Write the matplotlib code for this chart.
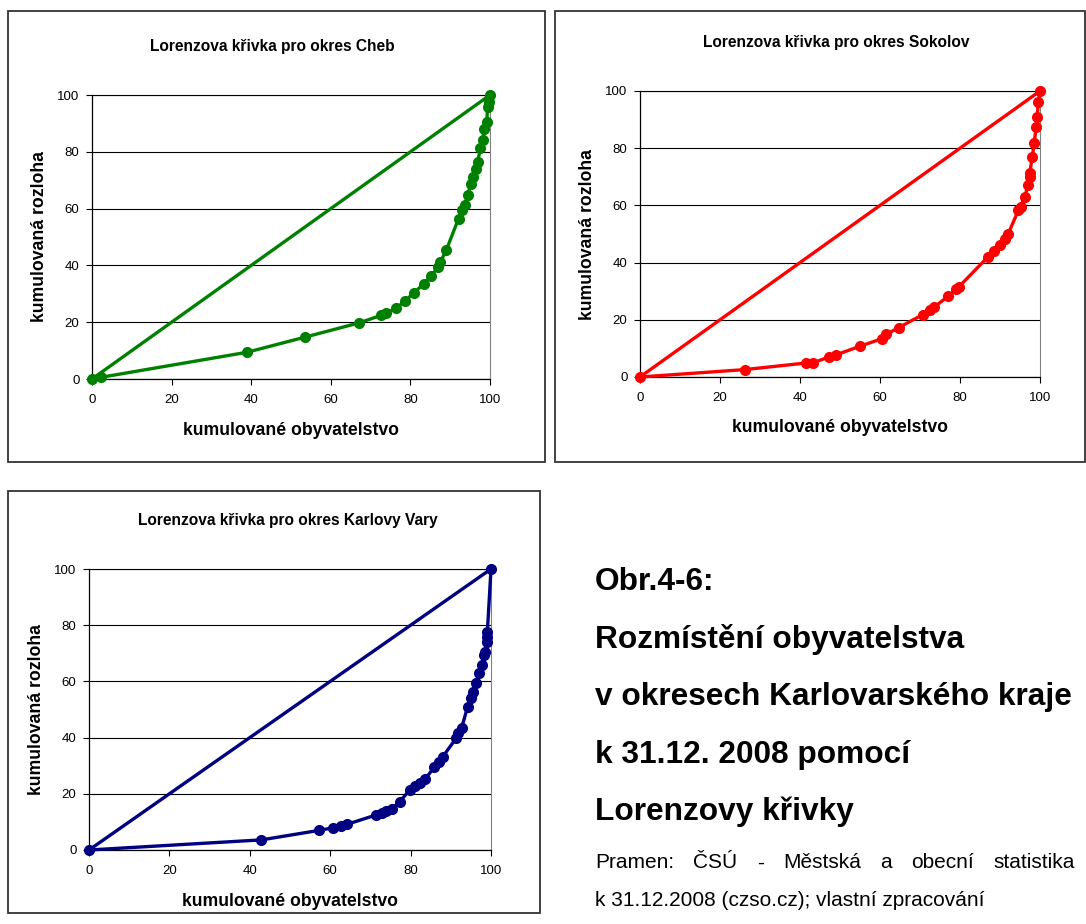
import matplotlib
matplotlib.use("Agg")
import matplotlib.pyplot as plt
from matplotlib.patches import Rectangle

plt.rcParams["font.family"] = ["Liberation Sans", "DejaVu Sans"]

# kumulované obyvatelstvo (x) a kumulovaná rozloha (y), v %
cheb_pop = [0, 2.3, 38.9, 53.4, 67.2, 72.6, 73.9, 76.4, 78.7, 81.0, 83.3, 85.2, 86.9, 87.5,
            89.0, 92.1, 93.0, 93.6, 94.4, 95.2, 95.8, 96.5, 96.9, 97.6, 98.2, 98.6, 99.2,
            99.4, 99.8, 100]
cheb_area = [0, 0.6, 9.4, 14.7, 19.8, 22.4, 23.3, 24.9, 27.6, 30.4, 33.5, 36.1, 39.4, 41.2,
             45.3, 56.5, 59.4, 61.2, 64.7, 68.8, 71.2, 74.1, 76.5, 81.2, 84.1, 88.2, 90.6,
             95.9, 97.6, 100]

sokolov_pop = [0, 26.3, 41.5, 43.2, 47.2, 49.1, 54.9, 60.5, 61.6, 64.7, 70.7, 72.5, 73.6,
               77.0, 79.1, 79.7, 87.0, 88.5, 90.0, 91.2, 92.0, 94.6, 95.2, 96.2, 97.0, 97.4,
               97.4, 98.1, 98.5, 99.1, 99.3, 99.6, 100]
sokolov_area = [0, 2.6, 4.9, 4.9, 7.0, 7.8, 10.7, 13.4, 14.9, 17.3, 21.8, 23.3, 24.5, 28.2,
                30.6, 31.5, 42.0, 44.1, 46.1, 48.4, 49.9, 58.3, 59.5, 63.0, 67.1, 70.0, 71.2,
                77.0, 81.7, 87.5, 91.0, 96.3, 100]

kv_pop = [0, 42.9, 57.3, 60.7, 62.8, 64.1, 71.5, 72.8, 73.9, 75.3, 77.3, 79.8, 81.1, 82.3,
          83.6, 85.9, 87.1, 88.0, 91.3, 91.9, 92.7, 94.2, 95.0, 95.6, 96.3, 97.1, 97.7, 98.3,
          98.5, 98.9, 99.1, 99.1, 100]
kv_area = [0, 3.6, 7.0, 7.9, 8.5, 9.1, 12.5, 13.3, 13.9, 14.6, 17.2, 21.4, 22.8, 23.7, 25.3,
           29.4, 31.4, 33.2, 39.7, 41.5, 43.5, 51.0, 54.0, 56.3, 59.3, 62.9, 65.8, 69.4, 70.6,
           74.1, 75.9, 77.7, 100]

equality = [0, 100]
ticks = [0, 20, 40, 60, 80, 100]

W, H = 1086, 924
fig = plt.figure(figsize=(W / 100, H / 100), dpi=100)


def fx(x):
    return x / W


def fy(y):
    return 1 - y / H


def panel(box, axbox, title, title_x, pop, area, color):
    # ramecek grafu
    x0, y0, x1, y1 = box
    fig.patches.append(Rectangle((fx(x0), fy(y1)), fx(x1 - x0), (y1 - y0) / H,
                                 transform=fig.transFigure, fill=False,
                                 edgecolor="#333333", linewidth=1.3))
    l, t, r, b = axbox
    ax = fig.add_axes([fx(l), fy(b), fx(r - l), (b - t) / H])
    ax.plot(equality, equality, color=color, linewidth=2.4, zorder=3)
    ax.plot(pop, area, color=color, linewidth=2.4, marker="o", markersize=7, zorder=4,
            clip_on=False)
    ax.set_xlim(0, 100)
    ax.set_ylim(0, 100)
    ax.set_xticks(ticks)
    ax.set_yticks(ticks)
    ax.yaxis.grid(True, color="black", linewidth=0.8)
    ax.set_axisbelow(True)
    ax.tick_params(labelsize=9.5, length=4, width=0.8, colors="black", pad=5)
    ax.tick_params(axis="x", pad=7)
    for s in ["left", "bottom"]:
        ax.spines[s].set_linewidth(0.9)
    ax.spines["right"].set_color("#808080")
    ax.spines["top"].set_linewidth(0.8)
    fig.text(fx(title_x), fy(t - 49), title, ha="center", va="center",
             fontsize=11.2, fontweight="bold")
    fig.text(fx((l + r) / 2), fy(b + 51), "kumulované obyvatelstvo", ha="center",
             va="center", fontsize=12.7, fontweight="bold")
    fig.text(fx(l - 52), fy((t + b) / 2), "kumulovaná rozloha", ha="center", va="center",
             rotation=90, fontsize=12.7, fontweight="bold")
    return ax


panel((8, 11, 545, 462), (92, 95, 490, 379), "Lorenzova křivka pro okres Cheb", 272,
      cheb_pop, cheb_area, "#008000")
panel((555, 11, 1085, 462), (640, 91, 1040, 377), "Lorenzova křivka pro okres Sokolov", 836,
      sokolov_pop, sokolov_area, "#ff0000")
panel((8, 491, 540, 913), (89, 569, 491, 850), "Lorenzova křivka pro okres Karlovy Vary", 288,
      kv_pop, kv_area, "#000080")

heading = ["Obr.4-6:", "Rozmístění obyvatelstva", "v okresech Karlovarského kraje",
           "k 31.12. 2008 pomocí", "Lorenzovy křivky"]
for i, line in enumerate(heading):
    fig.text(fx(595), fy(582 + i * 57.5), line, ha="left", va="center",
             fontsize=22.8, fontweight="bold")

# zarovnany radek do bloku
words = ["Pramen:", "ČSÚ", "-", "Městská", "a", "obecní", "statistika"]
fig.canvas.draw()
renderer = fig.canvas.get_renderer()
objs = [fig.text(0, fy(863), w, ha="left", va="center", fontsize=15) for w in words]
widths = [o.get_window_extent(renderer).width for o in objs]
gap = (1075 - 595 - sum(widths)) / (len(words) - 1)
x = 595
for o, w in zip(objs, widths):
    o.set_x(fx(x))
    x += w + gap
fig.text(fx(595), fy(901), "k 31.12.2008 (czso.cz); vlastní zpracování", ha="left",
         va="center", fontsize=15)

fig.savefig("out.png", dpi=100)
